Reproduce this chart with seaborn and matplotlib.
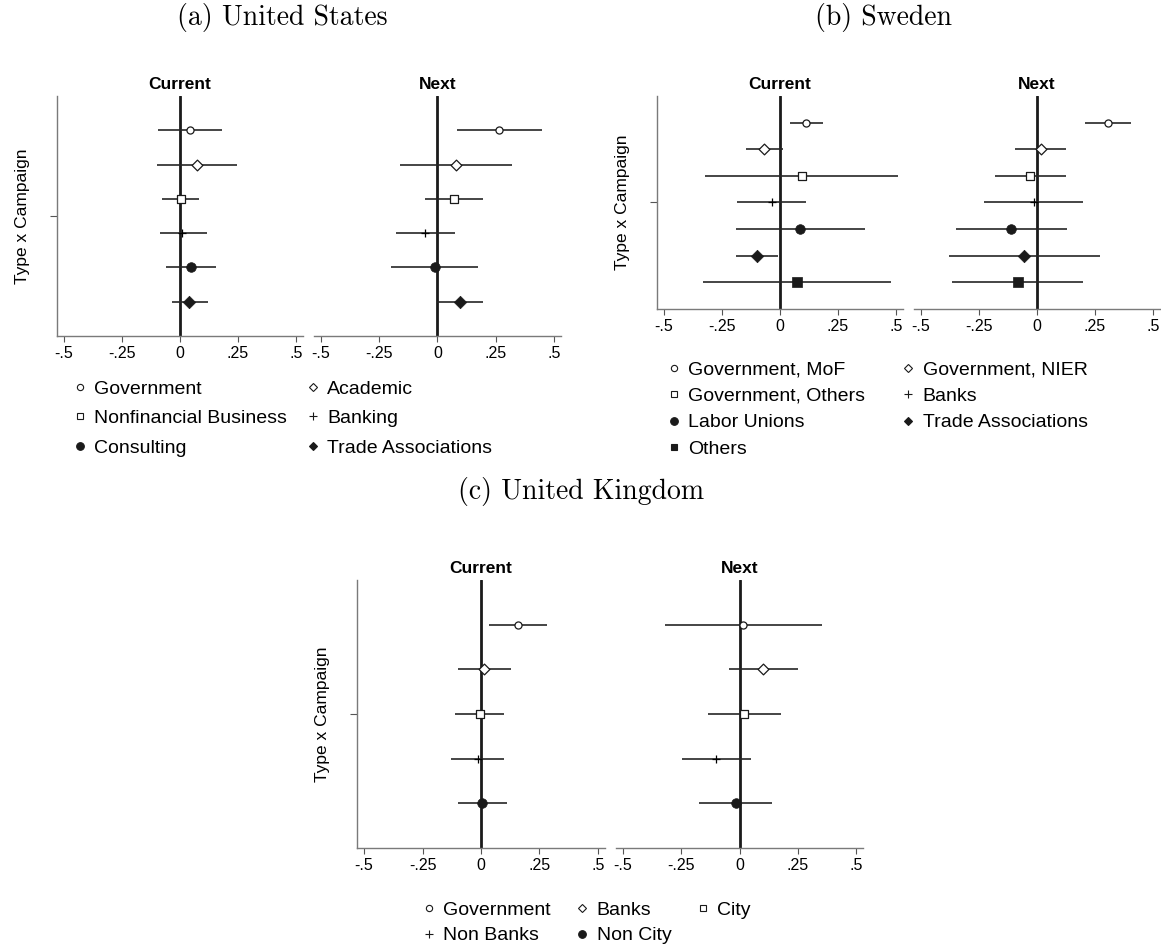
import matplotlib.pyplot as plt
import pandas as pd
import seaborn as sns
from matplotlib.lines import Line2D

# ---- data ----
us_types = ["Government", "Academic", "Nonfinancial Business", "Banking",
            "Consulting", "Trade Associations"]
us_cur_est = [0.043, 0.075, 0.003, 0.010, 0.047, 0.040]
us_cur_lo = [-0.095, -0.097, -0.077, -0.088, -0.062, -0.035]
us_cur_hi = [0.180, 0.245, 0.084, 0.115, 0.155, 0.120]
us_next_est = [0.263, 0.078, 0.070, -0.052, -0.012, 0.097]
us_next_lo = [0.082, -0.163, -0.055, -0.180, -0.200, 0.000]
us_next_hi = [0.448, 0.318, 0.195, 0.077, 0.175, 0.195]

se_types = ["Government, MoF", "Government, NIER", "Government, Others", "Banks",
            "Labor Unions", "Trade Associations", "Others"]
se_cur_est = [0.114, -0.070, 0.095, -0.035, 0.088, -0.098, 0.073]
se_cur_lo = [0.045, -0.148, -0.325, -0.185, -0.190, -0.190, -0.330]
se_cur_hi = [0.185, 0.012, 0.510, 0.110, 0.365, -0.010, 0.480]
se_next_est = [0.307, 0.018, -0.030, -0.012, -0.110, -0.057, -0.083]
se_next_lo = [0.205, -0.095, -0.183, -0.228, -0.350, -0.380, -0.365]
se_next_hi = [0.405, 0.123, 0.123, 0.200, 0.130, 0.270, 0.200]

uk_types = ["Government", "Banks", "City", "Non Banks", "Non City"]
uk_cur_est = [0.158, 0.013, -0.004, -0.013, 0.004]
uk_cur_lo = [0.035, -0.100, -0.110, -0.127, -0.100]
uk_cur_hi = [0.280, 0.127, 0.097, 0.100, 0.110]
uk_next_est = [0.017, 0.100, 0.020, -0.100, -0.017]
uk_next_lo = [-0.320, -0.045, -0.135, -0.245, -0.175]
uk_next_hi = [0.355, 0.250, 0.180, 0.048, 0.140]

x_ticks = [-0.5, -0.25, 0, 0.25, 0.5]
x_tick_labels = ["-.5", "-.25", "0", ".25", ".5"]

# marker styles by position in the category list
marker_styles = [
    dict(marker="o", face="white", s=26, lw=0.9, ms=4.5),
    dict(marker="D", face="white", s=30, lw=0.9, ms=4.5),
    dict(marker="s", face="white", s=28, lw=0.9, ms=4.5),
    dict(marker="+", face="black", s=26, lw=0.9, ms=5.5),
    dict(marker="o", face="#1a1a1a", s=48, lw=0.5, ms=5.5),
    dict(marker="D", face="#1a1a1a", s=40, lw=0.5, ms=5.0),
    dict(marker="s", face="#1a1a1a", s=48, lw=0.5, ms=5.0),
]

sns.set_theme(style="white", rc={
    "text.color": "black",
    "axes.labelcolor": "black",
    "xtick.color": "#555555",
    "ytick.color": "#555555",
})
plt.rcParams["font.family"] = ["Liberation Sans", "DejaVu Sans"]

W, H = 1161, 947


def box(left, right, top, bottom):
    return [left / W, 1 - bottom / H, (right - left) / W, (bottom - top) / H]


def draw_panel(ax, types, est, lo, hi, title, first):
    df = pd.DataFrame({"type": types, "est": est, "lo": lo, "hi": hi})
    df["pos"] = range(1, len(df) + 1)
    n = len(df)

    ax.axvline(0, color="#1a1a1a", lw=2.0, zorder=1)
    ax.hlines(df["pos"], df["lo"], df["hi"], color="#262626", lw=1.2, zorder=2)
    for i, row in df.iterrows():
        st = marker_styles[i]
        if st["marker"] == "+":
            sns.scatterplot(x=[row["est"]], y=[row["pos"]], ax=ax, marker="+",
                            color="black", s=st["s"], linewidth=st["lw"],
                            zorder=3, legend=False)
        else:
            sns.scatterplot(x=[row["est"]], y=[row["pos"]], ax=ax, marker=st["marker"],
                            color="black", facecolor=st["face"], edgecolor="#1a1a1a",
                            s=st["s"], linewidth=st["lw"], zorder=3, legend=False)

    ax.set_xlim(-0.53, 0.53)
    ax.set_ylim(n + 1, 0)
    ax.set_xticks(x_ticks)
    ax.set_xticklabels(x_tick_labels)
    ax.tick_params(axis="x", direction="out", length=4, width=0.8, pad=3,
                   labelsize=11.5, labelcolor="black", bottom=True)
    ax.set_xlabel("")
    ax.set_title(title, fontsize=12.5, fontweight="bold", pad=5)

    for side in ["top", "right"]:
        ax.spines[side].set_visible(False)
    ax.spines["bottom"].set_color("#7a7a7a")
    ax.spines["bottom"].set_linewidth(1.0)
    if first:
        ax.spines["left"].set_color("#7a7a7a")
        ax.spines["left"].set_linewidth(1.0)
        ax.set_yticks([(n + 1) / 2])
        ax.set_yticklabels([""])
        ax.tick_params(axis="y", direction="out", length=5, width=0.8, left=True)
        ax.set_ylabel("Type x Campaign", fontsize=12.5, labelpad=11)
    else:
        ax.spines["left"].set_visible(False)
        ax.set_yticks([])
        ax.set_ylabel("")


def add_legend(fig, types, ncol, x, y, colsp, rowsp):
    handles = []
    for i, t in enumerate(types):
        st = marker_styles[i]
        handles.append(Line2D([], [], linestyle="none", marker=st["marker"],
                              markersize=st["ms"] if st["marker"] != "D" else st["ms"] - 0.5,
                              markerfacecolor=st["face"], markeredgecolor="#1a1a1a",
                              markeredgewidth=0.8, label=t))
    # legend fills column-wise; reorder so that it reads row-wise
    nrow = -(-len(types) // ncol)
    order = []
    for c in range(ncol):
        for r in range(nrow):
            k = r * ncol + c
            if k < len(types):
                order.append(k)
    fig.legend([handles[k] for k in order], [types[k] for k in order],
               ncol=ncol, loc="upper left", bbox_to_anchor=(x / W, 1 - y / H),
               frameon=False, fontsize=14, handlelength=0.6, handletextpad=0.45,
               labelspacing=rowsp, columnspacing=colsp, borderpad=0, borderaxespad=0)


fig = plt.figure(figsize=(W / 100, H / 100), dpi=100)

ax_a1 = fig.add_axes(box(57, 303, 96, 336))
ax_a2 = fig.add_axes(box(314, 561, 96, 336))
ax_b1 = fig.add_axes(box(657, 903, 96, 309))
ax_b2 = fig.add_axes(box(914, 1160, 96, 309))
ax_c1 = fig.add_axes(box(357, 605, 580, 848))
ax_c2 = fig.add_axes(box(616, 863, 580, 848))

draw_panel(ax_a1, us_types, us_cur_est, us_cur_lo, us_cur_hi, "Current", True)
draw_panel(ax_a2, us_types, us_next_est, us_next_lo, us_next_hi, "Next", False)
draw_panel(ax_b1, se_types, se_cur_est, se_cur_lo, se_cur_hi, "Current", True)
draw_panel(ax_b2, se_types, se_next_est, se_next_lo, se_next_hi, "Next", False)
draw_panel(ax_c1, uk_types, uk_cur_est, uk_cur_lo, uk_cur_hi, "Current", True)
draw_panel(ax_c2, uk_types, uk_next_est, uk_next_lo, uk_next_hi, "Next", False)

add_legend(fig, us_types, 2, 74, 380, 1.0, 0.62)
add_legend(fig, se_types, 2, 668, 361, 1.9, 0.45)
add_legend(fig, uk_types, 3, 423, 901, 1.3, 0.42)

fig.text(177 / W, 1 - 17 / H, "(a) United States", ha="left", va="center",
         fontsize=20, family="cmr10")
fig.text(815 / W, 1 - 17 / H, "(b) Sweden", ha="left", va="center",
         fontsize=20, family="cmr10")
fig.text(458 / W, 1 - 491 / H, "(c) United Kingdom", ha="left", va="center",
         fontsize=20, family="cmr10")

fig.savefig("out.png", dpi=100, facecolor="white")
